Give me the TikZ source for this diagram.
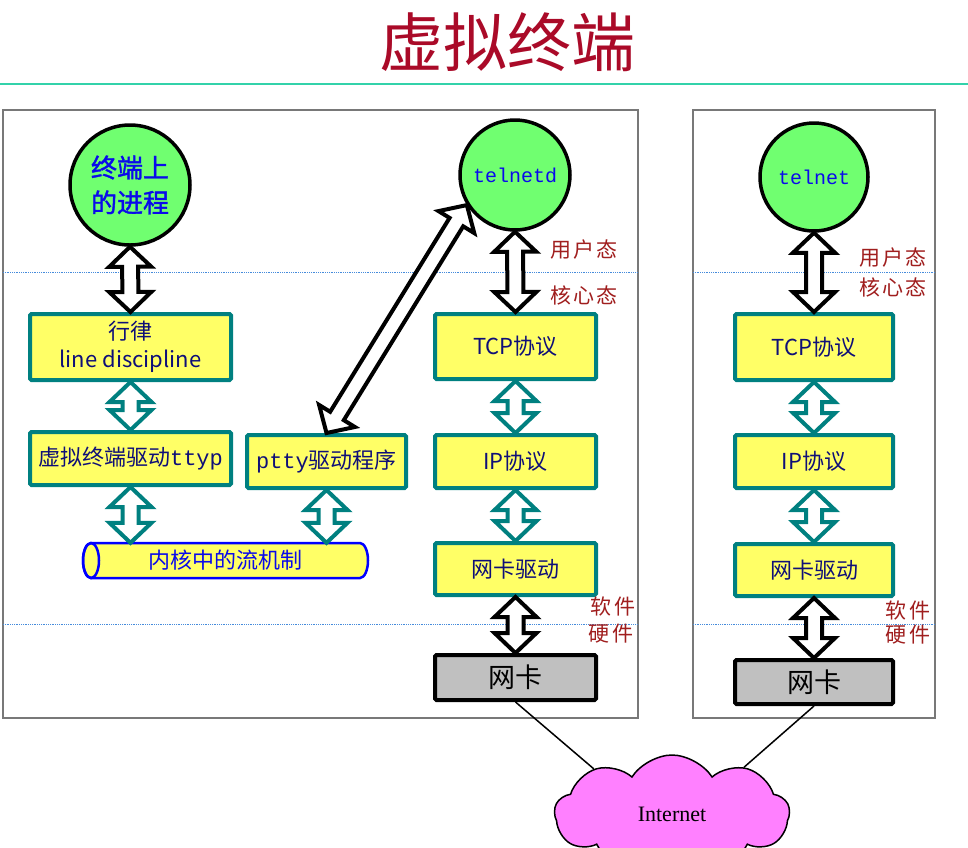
\documentclass[tikz,border=0pt]{standalone}
\usepackage{fontspec}
\setmainfont{Noto Sans CJK SC}
\newfontfamily\cjkfont{Noto Sans CJK SC}
\newfontfamily\cjkbold{Noto Sans CJK SC}[FakeBold=1.5]
\newfontfamily\cjkspaced{Noto Sans CJK SC}[LetterSpace=10]
\newfontfamily\monofont{Liberation Mono}
\newfontfamily\serffont{Liberation Serif}
\usetikzlibrary{calc,shapes.symbols}
\definecolor{yel}{RGB}{255,255,102}
\definecolor{tealc}{RGB}{0,128,128}
\definecolor{grn}{RGB}{112,255,112}
\definecolor{grayc}{RGB}{192,192,192}
\definecolor{navy}{RGB}{15,15,120}
\definecolor{cblue}{RGB}{10,10,235}
\definecolor{lblred}{RGB}{160,30,30}
\definecolor{ttlred}{RGB}{170,10,40}
\definecolor{sepblue}{RGB}{70,140,220}
\definecolor{aqua}{RGB}{50,210,170}
\definecolor{pinkc}{RGB}{255,128,255}
\definecolor{panelg}{RGB}{120,120,120}
\newcommand\fsz[1]{\fontsize{#1}{#1}\selectfont}
\newcommand\dblarr[3]{%
  \coordinate (h1) at ($(#1)!20pt!(#2)$);
  \coordinate (h2) at ($(#2)!20pt!(#1)$);
  \draw[#3] (#1) -- ($(h1)!21pt!90:(#2)$) -- ($(h1)!8pt!90:(#2)$)
    -- ($(h2)!8pt!-90:(#1)$) -- ($(h2)!21pt!-90:(#1)$) -- (#2)
    -- ($(h2)!21pt!90:(#1)$) -- ($(h2)!8pt!90:(#1)$)
    -- ($(h1)!8pt!-90:(#2)$) -- ($(h1)!21pt!-90:(#2)$) -- cycle;}
\tikzset{
  ybox/.style={draw=tealc, line width=4pt, fill=yel, rounded corners=1.5pt, inner sep=0pt,
    text=navy, font=\cjkfont\fsz{22}, align=center},
  gbox/.style={draw=black, line width=4pt, fill=grayc, rounded corners=1.5pt, inner sep=0pt,
    text=black, font=\cjkfont\fsz{27}},
  proc/.style={circle, draw=black, line width=3.5pt, fill=grn, inner sep=0pt, text=cblue},
  blkarr/.style={draw=black, line width=4pt, fill=white, line join=miter},
  tlarr/.style={draw=tealc, line width=4pt, fill=white, line join=miter},
  lbl/.style={text=lblred, font=\cjkspaced\fsz{21}, inner sep=0pt},
  sepline/.style={draw=sepblue, densely dotted, line width=0.8pt},
  panel/.style={draw=panelg, line width=1.2pt},
  cyl/.style={draw=blue, line width=2.5pt, fill=yel}
}
\begin{document}
\begin{tikzpicture}[x=1pt, y=-1pt]
\useasboundingbox (0,0) rectangle (968,847);
\fill[white] (0,0) rectangle (968,847);

% title
\node[text=ttlred, font=\cjkfont\fsz{64}, inner sep=0pt] (title) at (507,42) {虚拟终端};
\draw[aqua, line width=2pt] (0,84) -- (968,84);

% panels
\draw[panel] (3,110) rectangle (638,718);
\draw[panel] (693,110) rectangle (935,718);
\draw[sepline] (3,272) -- (638,272);
\draw[sepline] (693,272) -- (935,272);
\draw[sepline] (3,624) -- (638,624);
\draw[sepline] (693,624) -- (935,624);

% left stack
\node[proc, minimum size=120pt, font=\cjkbold\fsz{26}, align=center] (c1) at (130,185) {终端上\\[9pt]的进程};
\node[ybox, minimum width=201pt, minimum height=66pt, font=\cjkfont\fontsize{22}{28}\selectfont] (ld) at (130.5,347) {行律\\line discipline};
\node[ybox, minimum width=201pt, minimum height=53pt] (ttyp) at (130.5,458.5) {虚拟终端驱动{\monofont ttyp}};
\node[ybox, minimum width=159pt, minimum height=53pt] (ptty) at (326.5,461.5) {{\monofont ptty}驱动程序};

% stream cylinder
\draw[cyl] (91,543) -- (360,543) arc[start angle=90, end angle=-90, x radius=8pt, y radius=17.5pt]
  -- (91,578) arc[start angle=270, end angle=90, x radius=8pt, y radius=17.5pt] -- cycle;
\draw[draw=blue, line width=2.5pt] (91,560.5) ellipse [x radius=8pt, y radius=17.5pt];
\node[minimum width=285pt, minimum height=35pt, inner sep=0pt, text=cblue, font=\cjkfont\fsz{22}] (strm) at (225.5,560.5) {内核中的流机制};

% middle stack
\node[proc, minimum size=110pt, font=\monofont\fsz{20}] (telnetd) at (515,175) {telnetd};
\node[ybox, minimum width=161pt, minimum height=65pt] (tcp) at (515.5,346.5) {TCP协议};
\node[ybox, minimum width=161pt, minimum height=53pt] (ip) at (515.5,461.5) {IP协议};
\node[ybox, minimum width=161pt, minimum height=52pt] (drv) at (515.5,569) {网卡驱动};
\node[gbox, minimum width=161pt, minimum height=45pt] (nic) at (515.5,677.5) {网卡};

% right stack
\node[proc, minimum size=108pt, font=\monofont\fsz{20}] (telnet) at (814,177) {telnet};
\node[ybox, minimum width=158pt, minimum height=66pt] (tcp2) at (814,347) {TCP协议};
\node[ybox, minimum width=158pt, minimum height=53pt] (ip2) at (814,461.5) {IP协议};
\node[ybox, minimum width=158pt, minimum height=52pt] (drv2) at (814,570) {网卡驱动};
\node[gbox, minimum width=158pt, minimum height=44pt] (nic2) at (814,682) {网卡};

% labels
\node[lbl] (u1) at (584,250) {用户态};
\node[lbl] (k1) at (584,295) {核心态};
\node[lbl] (s1) at (613,607) {软件};
\node[lbl] (hw1) at (611,634) {硬件};
\node[lbl] (u2) at (893,258) {用户态};
\node[lbl] (k2) at (893,287) {核心态};
\node[lbl] (s2) at (908,611) {软件};
\node[lbl] (hw2) at (908,635) {硬件};

% internet cloud
\node[cloud, cloud puffs=9, cloud puff arc=115, aspect=2, draw=black, line width=1.5pt,
  fill=pinkc, minimum width=235pt, minimum height=118pt, font=\serffont\fsz{22}] (inet) at (672,814) {Internet};
\draw[line width=1.5pt] (nic.south) -- (inet.150);
\draw[line width=1.5pt] (nic2.south) -- (inet.33);

% arrows
\coordinate (s1top) at (ttyp.south |- strm.north);
\coordinate (s2top) at (ptty.south |- strm.north);
\dblarr{c1.south}{ld.north}{blkarr}
\dblarr{ld.south}{ttyp.north}{tlarr}
\dblarr{ttyp.south}{s1top}{tlarr}
\dblarr{ptty.south}{s2top}{tlarr}
\dblarr{ptty.north}{telnetd.212}{blkarr}
\dblarr{telnetd.south}{tcp.north}{blkarr}
\dblarr{tcp.south}{ip.north}{tlarr}
\dblarr{ip.south}{drv.north}{tlarr}
\dblarr{drv.south}{nic.north}{blkarr}
\dblarr{telnet.south}{tcp2.north}{blkarr}
\dblarr{tcp2.south}{ip2.north}{tlarr}
\dblarr{ip2.south}{drv2.north}{tlarr}
\dblarr{drv2.south}{nic2.north}{blkarr}
\end{tikzpicture}
\end{document}
